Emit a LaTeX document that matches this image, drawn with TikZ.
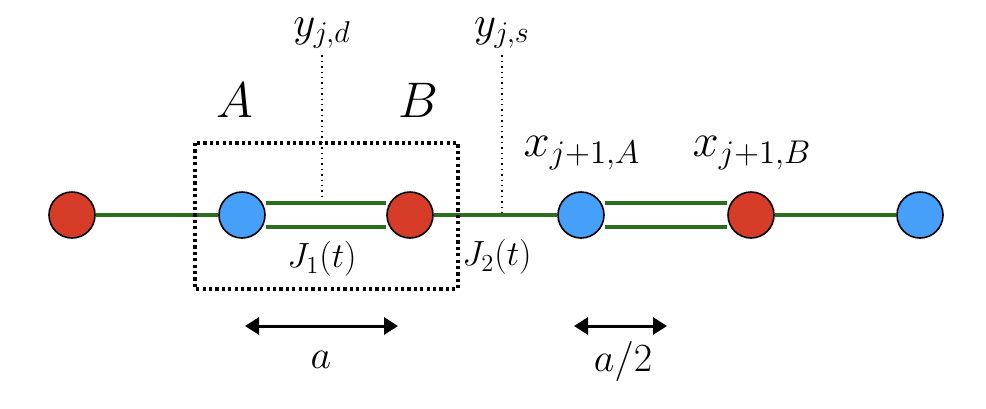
\RequirePackage{fix-cm}
\documentclass[tikz,border=0pt]{standalone}
\usepackage{amsmath,amssymb}
\usetikzlibrary{arrows.meta}
\definecolor{siteblue}{RGB}{70,160,250}
\definecolor{sitered}{RGB}{215,60,40}
\definecolor{bondgreen}{RGB}{45,110,30}

\begin{document}
\begin{tikzpicture}[x=0.5pt, y=-0.5pt, every node/.style={font=\fontsize{17.5}{20}\selectfont}, >={Triangle[length=7pt,width=8.5pt]},
	site/.style={circle, draw=black, line width=0.8pt, minimum size=23pt, inner sep=0pt},
	bond/.style={draw=bondgreen, line width=2pt},
	leader/.style={dotted, line width=0.7pt},
	cellbox/.style={line width=1.6pt, dash pattern=on 1.6pt off 1.6pt},
	span/.style={<->, line width=1.5pt},
	biglabel/.style={font=\fontsize{25}{28}\selectfont},
	coordlabel/.style={font=\fontsize{23.5}{26}\selectfont},
	fieldlabel/.style={font=\fontsize{21.5}{24}\selectfont},
	lenlabel/.style={font=\fontsize{20}{22}\selectfont}]
	\useasboundingbox (0,0) rectangle (986,408);
	\node[site, fill=sitered] (R1) at (72,215) {};
	\node[site, fill=siteblue] (B1) at (242,215) {};
	\node[site, fill=sitered] (R2) at (410,215) {};
	\node[site, fill=siteblue] (B2) at (581,215) {};
	\node[site, fill=sitered] (R3) at (751,215) {};
	\node[site, fill=siteblue] (B3) at (920,215) {};
	\draw[bond] (R1) -- (B1);
	\draw[bond] ([yshift=6pt]B1.east) -- ([yshift=6pt]R2.west);
	\draw[bond] ([yshift=-6pt]B1.east) -- ([yshift=-6pt]R2.west);
	\draw[bond] (R2) -- (B2);
	\draw[bond] ([yshift=6pt]B2.east) -- ([yshift=6pt]R3.west);
	\draw[bond] ([yshift=-6pt]B2.east) -- ([yshift=-6pt]R3.west);
	\draw[bond] (R3) -- (B3);
	\draw[cellbox] (195,143) rectangle (458,289);
	\node[biglabel] (LA) at (235,100) {$A$};
	\node[biglabel] (LB) at (418,100) {$B$};
	\node[coordlabel] (XA) at (582,153) {$x_{j+1,A}$};
	\node[coordlabel] (XB) at (752,153) {$x_{j+1,B}$};
	\node[fieldlabel] (YD) at (322,33) {$y_{j,d}$};
	\node[fieldlabel] (YS) at (502,33) {$y_{j,s}$};
	\coordinate (YDend) at (322,197);
	\coordinate (YSend) at (502,213);
	\draw[leader] (YD) -- (YDend);
	\draw[leader] (YS) -- (YSend);
	\node (J1) at (322,259) {$J_1(t)$};
	\node (J2) at (497,257) {$J_2(t)$};
	\coordinate (SA1) at (245,326);
	\coordinate (SA2) at (398,326);
	\coordinate (SH1) at (574,326);
	\coordinate (SH2) at (667,326);
	\draw[span] (SA1) -- (SA2);
	\draw[span] (SH1) -- (SH2);
	\node[lenlabel] (La) at (321,360) {$a$};
	\node[lenlabel] (Lhalf) at (623,361) {$a/2$};
\end{tikzpicture}
\end{document}
